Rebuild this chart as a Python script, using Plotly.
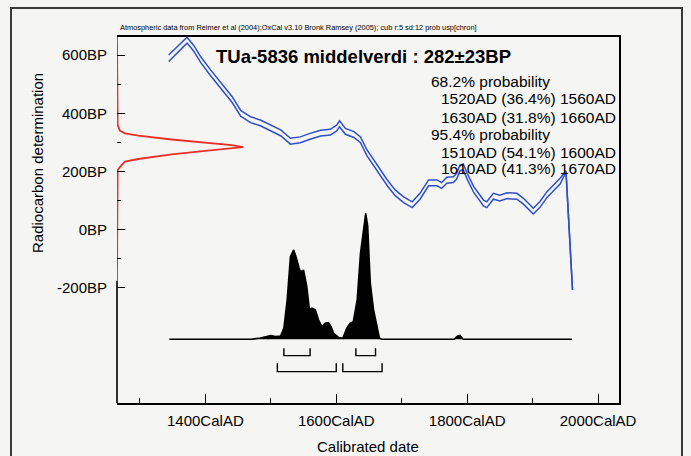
import plotly.graph_objects as go

# ---------------- data ----------------
# calibration curve: year AD, mean BP, 1-sigma BP
cal_year = [1344, 1372, 1382, 1393, 1408, 1426, 1441, 1454, 1469, 1484,
            1500, 1515, 1530, 1545, 1560, 1576, 1591, 1601, 1605, 1614,
            1627, 1637, 1647, 1657, 1667, 1678, 1690, 1703, 1716, 1728,
            1741, 1754, 1761, 1769, 1779, 1784, 1789, 1794, 1800, 1810,
            1825, 1830, 1840, 1850, 1861, 1871, 1876, 1886, 1896, 1901,
            1911, 1922, 1932, 1942, 1951, 1961]
cal_mean = [589, 651, 624, 584, 539, 487, 447, 400, 378, 367,
            350, 333, 304, 309, 321, 332, 335, 350, 364, 338,
            327, 309, 264, 230, 195, 161, 127, 103, 86, 115,
            161, 161, 152, 170, 172, 184, 212, 216, 184, 138,
            92, 86, 115, 109, 117, 115, 115, 98, 75, 64,
            86, 121, 144, 167, 200, -207]
cal_sigma = [11, 10, 10, 10, 10, 10, 10, 10, 10, 10,
             10, 10, 10, 10, 10, 10, 10, 10, 10, 10,
             10, 10, 10, 10, 10, 10, 10, 10, 10, 10,
             10, 10, 10, 10, 10, 10, 10, 10, 10, 10,
             10, 10, 10, 10, 10, 10, 10, 10, 10, 10,
             10, 10, 10, 10, 2, 0]

# radiocarbon measurement distribution (BP vs relative probability)
c14_bp = [-175, 205, 216, 234, 243, 259, 271, 280, 284, 291, 299, 310, 323, 331, 340, 360, 662]
c14_prob = [0, 0.005, 0.024, 0.063, 0.169, 0.433, 0.697, 0.908, 1.0, 0.908, 0.697, 0.433, 0.169, 0.063, 0.024, 0.005, 0]

# calibrated date distribution (year AD vs relative probability)
cal_dist_year = [1345, 1470, 1484, 1492, 1500, 1507, 1515, 1520, 1525, 1530,
                 1535, 1539, 1544, 1548, 1550, 1555, 1559, 1563, 1568, 1573,
                 1578, 1583, 1588, 1592, 1596, 1604, 1610, 1616, 1621, 1626,
                 1632, 1637, 1642, 1645, 1648, 1652, 1657, 1662, 1666, 1670,
                 1780, 1785, 1789, 1794, 1960]
cal_dist_prob = [0, 0, 0.01, 0.02, 0.029, 0.021, 0.026, 0.089, 0.312, 0.656,
                 0.709, 0.647, 0.55, 0.537, 0.55, 0.418, 0.233, 0.246, 0.233, 0.153,
                 0.10, 0.127, 0.132, 0.10, 0.048, 0.013, 0.008, 0.087, 0.127, 0.14,
                 0.312, 0.68, 0.9, 1.0, 0.9, 0.445, 0.233, 0.10, 0.008, 0,
                 0, 0.025, 0.03, 0, 0]

# probability ranges
ranges_68 = [(1520, 1560), (1630, 1660)]
pct_68 = [36.4, 31.8]
ranges_95 = [(1510, 1600), (1610, 1670)]
pct_95 = [54.1, 41.3]

x_major = [1400, 1600, 1800, 2000]
x_major_text = ["1400CalAD", "1600CalAD", "1800CalAD", "2000CalAD"]
x_minor = [1300, 1500, 1700, 1900]
y_major = [-200, 0, 200, 400, 600]
y_major_text = ["-200BP", "0BP", "200BP", "400BP", "600BP"]
y_minor = [-100, 100, 300, 500]

title_text = "TUa-5836 middelverdi : 282\u00b123BP"
header_text = ("Atmospheric data from Reimer et al (2004);OxCal v3.10 Bronk Ramsey (2005); "
               "cub r:5 sd:12 prob usp[chron]")

# ---------------- layout geometry ----------------
W, H = 691, 456
L, R, T, B = 117, 619, 37, 403
FONT = "Liberation Sans, Arial, Helvetica, sans-serif"
BLUE = "#2f4fc8"
RED = "#e8302a"


def px(xp):
    return (xp - L) / (R - L)


def py(yp):
    return (B - yp) / (B - T)


fig = go.Figure()

# calibration curve: two lines at mean +/- sigma
upper = [m + s for m, s in zip(cal_mean, cal_sigma)]
lower = [m - s for m, s in zip(cal_mean, cal_sigma)]
for arr in (upper, lower):
    fig.add_trace(go.Scatter(x=cal_year, y=arr, mode="lines",
                             line=dict(color=BLUE, width=1.5),
                             hoverinfo="skip", showlegend=False))

# radiocarbon distribution on the y axis
fig.add_trace(go.Scatter(x=c14_prob, y=c14_bp, xaxis="x2", yaxis="y",
                         mode="lines", line=dict(color=RED, width=1.8),
                         hoverinfo="skip", showlegend=False))

# calibrated distribution
fig.add_trace(go.Scatter(x=cal_dist_year, y=cal_dist_prob, xaxis="x", yaxis="y2",
                         mode="lines", fill="tozeroy", fillcolor="black",
                         line=dict(color="black", width=1.6),
                         hoverinfo="skip", showlegend=False))

# range brackets
for rngs, top, bot in ((ranges_68, -0.071, -0.130), (ranges_95, -0.190, -0.257)):
    for a, b in rngs:
        fig.add_trace(go.Scatter(x=[a, a, b, b], y=[top, bot, bot, top],
                                 xaxis="x", yaxis="y2", mode="lines",
                                 line=dict(color="black", width=1.4),
                                 hoverinfo="skip", showlegend=False))

# left frame edge (black part below the red distribution baseline)
fig.add_shape(type="line", xref="paper", yref="y", x0=0, x1=0,
              y0=-595, y1=c14_bp[0], line=dict(color="black", width=1.6), layer="below")
# outer page border
fig.add_shape(type="rect", xref="paper", yref="paper",
              x0=px(11), x1=px(682), y0=py(470), y1=py(8),
              line=dict(color="#3a3a3a", width=2), layer="below")

annotations = []
annotations.append(dict(text=title_text, x=px(214), y=py(57), xref="paper", yref="paper",
                        xanchor="left", yanchor="middle", showarrow=False,
                        font=dict(family=FONT, size=18.5, color="black", weight="bold")))
annotations.append(dict(text=header_text, x=px(118), y=py(27.5), xref="paper", yref="paper",
                        xanchor="left", yanchor="middle", showarrow=False,
                        font=dict(family=FONT, size=7.4, color="black")))

lines = [("68.2% probability", 429)]
for (a, b), p in zip(ranges_68, pct_68):
    lines.append((f"{a}AD ({p}%) {b}AD", 439))
lines.append(("95.4% probability", 429))
for (a, b), p in zip(ranges_95, pct_95):
    lines.append((f"{a}AD ({p}%) {b}AD", 439))
ys = [81, 99, 117, 134, 152, 169]
for (txt, xl), yy in zip(lines, ys):
    annotations.append(dict(text=txt, x=px(xl), y=py(yy), xref="paper", yref="paper",
                            xanchor="left", yanchor="middle", showarrow=False,
                            font=dict(family=FONT, size=15.5, color="black")))

annotations.append(dict(text="Radiocarbon determination", x=px(37), y=py(163),
                        xref="paper", yref="paper", textangle=-90,
                        xanchor="center", yanchor="middle", showarrow=False,
                        font=dict(family=FONT, size=15, color="black")))
annotations.append(dict(text="Calibrated date", x=px(368), y=py(447),
                        xref="paper", yref="paper",
                        xanchor="center", yanchor="middle", showarrow=False,
                        font=dict(family=FONT, size=15, color="black")))

fig.update_layout(
    width=W, height=H,
    margin=dict(l=L, r=W - R, t=T, b=H - B, pad=0),
    paper_bgcolor="#f5f5f4", plot_bgcolor="#f5f5f4",
    showlegend=False,
    font=dict(family=FONT, size=15, color="black"),
    annotations=annotations,
    xaxis=dict(range=[1265, 2032], tickmode="array", tickvals=x_major,
               ticktext=x_major_text, ticks="inside", ticklen=9, tickwidth=1.4,
               tickcolor="black", showgrid=False, zeroline=False,
               showline=True, mirror=True, linecolor="black", linewidth=1.6,
               ticklabelstandoff=3,
               minor=dict(tickmode="array", tickvals=x_minor, ticks="inside",
                          ticklen=5, tickwidth=1.4, tickcolor="black", showgrid=False),
               tickfont=dict(family=FONT, size=15)),
    yaxis=dict(range=[-595, 662], tickmode="array", tickvals=y_major,
               ticktext=y_major_text, ticks="inside", ticklen=8, tickwidth=1.4,
               tickcolor="black", showgrid=False, zeroline=False,
               showline=False, ticklabelstandoff=9,
               minor=dict(tickmode="array", tickvals=y_minor, ticks="inside",
                          ticklen=4, tickwidth=1.4, tickcolor="black", showgrid=False),
               tickfont=dict(family=FONT, size=15)),
    xaxis2=dict(range=[0, (R - L) / 126.3], overlaying="x", visible=False),
    yaxis2=dict(range=[-0.5056, 2.399], overlaying="y", side="right",
                showline=True, linecolor="black", linewidth=1.6,
                showticklabels=False, ticks="", showgrid=False, zeroline=False),
)

fig.write_html("out.html", config={"displayModeBar": False},
               post_script="document.body.style.margin='0';document.body.style.overflow='hidden';")
